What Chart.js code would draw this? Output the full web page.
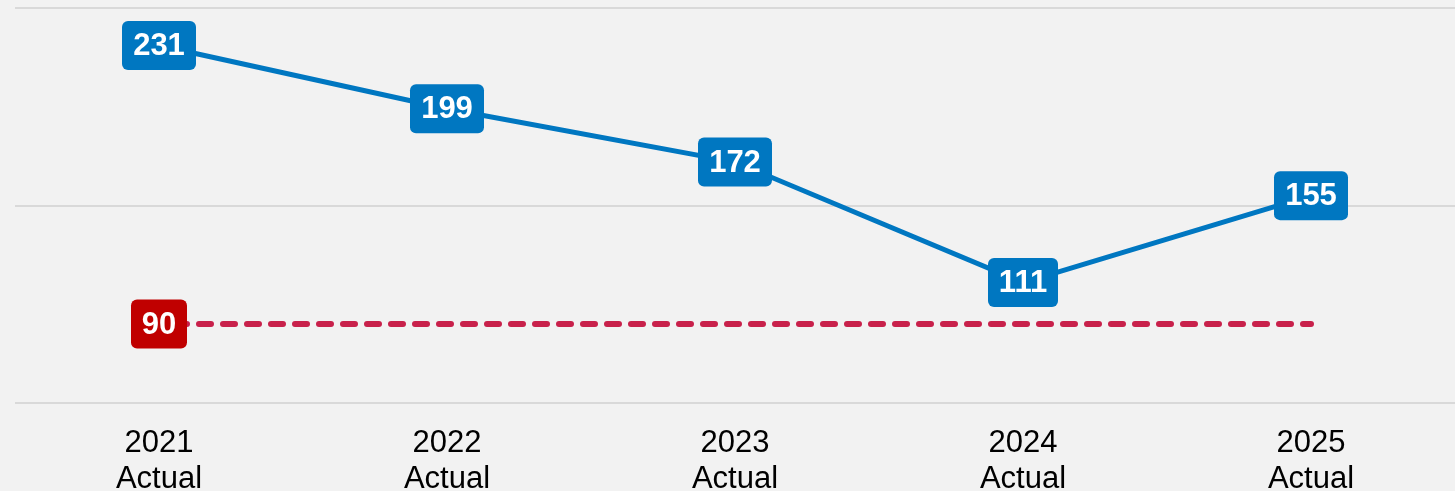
<!DOCTYPE html>
<html>
<head>
<meta charset="utf-8">
<script src="https://cdn.jsdelivr.net/npm/chart.js@4"></script>
<style>
  html, body { margin: 0; padding: 0; background: #f2f2f2; overflow: hidden; }
  canvas { display: block; }
</style>
</head>
<body>
<canvas id="trendChart" width="1455" height="491"></canvas>
<script>
const years = [["2021", "Actual"], ["2022", "Actual"], ["2023", "Actual"], ["2024", "Actual"], ["2025", "Actual"]];
const actualValues = [231, 199, 172, 111, 155];
const targetValues = [90, 90, 90, 90, 90];

const BLUE = "#0077c1";
const RED_BOX = "#c00000";
const RED_LINE = "#c8214b";

// boxed value labels, drawn on top of the lines
const boxLabels = {
  id: "boxLabels",
  afterDatasetsDraw(chart) {
    const ctx = chart.ctx;
    ctx.save();
    ctx.font = "bold 31px 'Liberation Sans', Arial, sans-serif";
    ctx.textAlign = "center";
    ctx.textBaseline = "middle";
    chart.data.datasets.forEach((ds, i) => {
      const meta = chart.getDatasetMeta(i);
      meta.data.forEach((pt, j) => {
        if (ds.labelIndexes && !ds.labelIndexes.includes(j)) return;
        const text = String(ds.data[j]);
        const w = Math.round(ctx.measureText(text).width + 22);
        const h = 49;
        ctx.fillStyle = ds.boxColor;
        ctx.beginPath();
        ctx.roundRect(pt.x - w / 2, pt.y - h / 2, w, h, 6);
        ctx.fill();
        ctx.fillStyle = "#fff";
        ctx.fillText(text, pt.x, pt.y + 1);
      });
    });
    ctx.restore();
  }
};

new Chart(document.getElementById("trendChart"), {
  type: "line",
  data: {
    labels: years,
    datasets: [
      {
        data: actualValues,
        borderColor: BLUE,
        borderWidth: 5,
        pointRadius: 0,
        tension: 0,
        boxColor: BLUE,
      },
      {
        data: targetValues,
        borderColor: RED_LINE,
        borderWidth: 6,
        borderDash: [12, 12],
        borderDashOffset: 8,
        borderCapStyle: "round",
        pointRadius: 0,
        boxColor: RED_BOX,
        labelIndexes: [0],
      },
    ],
  },
  options: {
    responsive: false,
    animation: false,
    layout: { padding: { left: 15, top: 8, right: 0, bottom: 0 } },
    plugins: {
      legend: { display: false },
      tooltip: { enabled: false },
    },
    scales: {
      x: {
        offset: true,
        grid: { display: false, drawTicks: false },
        border: { display: false },
        ticks: {
          padding: 22,
          color: "#000",
          maxRotation: 0,
          font: { family: "'Liberation Sans', Arial, sans-serif", size: 31, lineHeight: 1.17 },
        },
        afterFit(scale) { scale.height = 88; },
      },
      y: {
        min: 50,
        max: 250,
        ticks: { display: false, stepSize: 100 },
        grid: { color: "#d9d9d9", lineWidth: 2, drawTicks: false },
        border: { display: false },
        afterFit(scale) { scale.width = 0; },
      },
    },
  },
  plugins: [boxLabels],
});
</script>
</body>
</html>
